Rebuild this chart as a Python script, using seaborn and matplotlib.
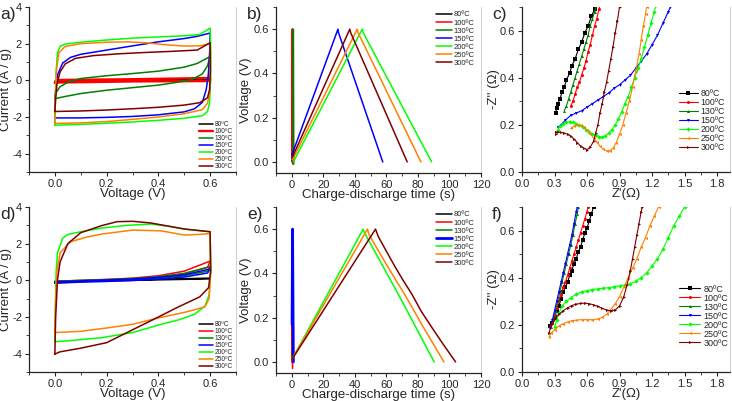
import matplotlib
matplotlib.use("Agg")
import matplotlib.pyplot as plt
from matplotlib.ticker import MultipleLocator, AutoMinorLocator
import seaborn as sns

temps = ["80ºC", "100ºC", "130ºC", "150ºC", "200ºC", "250ºC", "300ºC"]
colors = ["#000000", "#ff0000", "#008000", "#0000ff", "#00ff00", "#ff8000", "#800000"]
markers = ["s", "o", "^", "v", "D", "<", ">"]

# a) cyclic voltammetry (V, A/g)
cv_a = {
    "80ºC": [(0, -0.05), (0.01, 0.0), (0.3, 0.03), (0.6, 0.06), (0.6, 0.02), (0.3, -0.02), (0, -0.06)],
    "100ºC": [(0, -0.12), (0.01, 0.02), (0.3, 0.06), (0.6, 0.13), (0.6, 0.0), (0.59, -0.04), (0.3, -0.06), (0, -0.12)],
    "130ºC": [(0, -1.0), (0.003, -0.7), (0.02, -0.35), (0.05, -0.1), (0.1, 0.1), (0.2, 0.25), (0.3, 0.37),
              (0.4, 0.5), (0.5, 0.72), (0.55, 0.92), (0.6, 1.3), (0.59, 0.8), (0.57, 0.35), (0.53, 0.05),
              (0.5, -0.05), (0.4, -0.26), (0.3, -0.4), (0.2, -0.54), (0.1, -0.72), (0.04, -0.88), (0, -1.0)],
    "150ºC": [(0, -1.6), (0.003, -0.5), (0.01, 0.3), (0.03, 0.94), (0.06, 1.25), (0.1, 1.42), (0.2, 1.65),
              (0.3, 1.88), (0.4, 2.1), (0.5, 2.28), (0.55, 2.4), (0.6, 2.58), (0.598, 1.5), (0.593, 0.3),
              (0.585, -0.5), (0.57, -1.2), (0.54, -1.55), (0.5, -1.72), (0.4, -1.88), (0.3, -1.97),
              (0.2, -2.02), (0.1, -2.05), (0.0, -2.05), (0, -1.6)],
    "200ºC": [(0, -2.45), (0.002, -1.0), (0.005, 0.5), (0.01, 1.5), (0.02, 1.85), (0.04, 1.98), (0.1, 2.08),
              (0.2, 2.2), (0.3, 2.3), (0.4, 2.37), (0.5, 2.43), (0.56, 2.5), (0.6, 2.85), (0.603, 1.5),
              (0.602, 0), (0.598, -1.2), (0.59, -1.7), (0.57, -1.93), (0.5, -2.07), (0.4, -2.18),
              (0.3, -2.27), (0.2, -2.34), (0.1, -2.4), (0.0, -2.45)],
    "250ºC": [(0, -2.35), (0.002, -1.0), (0.006, 0.5), (0.015, 1.5), (0.04, 1.85), (0.1, 2.0), (0.2, 2.08),
              (0.28, 2.1), (0.35, 2.05), (0.42, 1.95), (0.5, 1.87), (0.56, 1.88), (0.6, 2.0), (0.601, 0.5),
              (0.598, -0.7), (0.59, -1.25), (0.57, -1.6), (0.5, -1.82), (0.4, -2.0), (0.3, -2.13),
              (0.2, -2.25), (0.1, -2.32), (0.0, -2.35)],
    "300ºC": [(0, -1.7), (0.003, -1.0), (0.008, -0.2), (0.02, 0.45), (0.04, 0.9), (0.08, 1.2), (0.15, 1.35),
              (0.25, 1.45), (0.35, 1.52), (0.45, 1.58), (0.55, 1.65), (0.6, 2.05), (0.601, 0.5),
              (0.598, -0.5), (0.59, -0.95), (0.56, -1.22), (0.5, -1.35), (0.4, -1.47), (0.3, -1.55),
              (0.2, -1.62), (0.1, -1.67), (0.0, -1.7)],
}

# d) cyclic voltammetry (V, A/g)
cv_d = {
    "80ºC": [(0, -0.05), (0.3, 0.03), (0.6, 0.12), (0.6, 0.08), (0.3, 0.0), (0, -0.08)],
    "100ºC": [(0, -0.15), (0.01, -0.05), (0.1, 0.0), (0.2, 0.05), (0.3, 0.12), (0.4, 0.25), (0.5, 0.5),
              (0.6, 1.05), (0.59, 0.7), (0.5, 0.35), (0.4, 0.15), (0.3, 0.05), (0.2, -0.02), (0.1, -0.07),
              (0, -0.15)],
    "130ºC": [(0, -0.12), (0.01, -0.05), (0.1, 0.0), (0.2, 0.04), (0.3, 0.1), (0.4, 0.2), (0.5, 0.38),
              (0.6, 0.75), (0.59, 0.5), (0.5, 0.25), (0.4, 0.1), (0.3, 0.03), (0.2, -0.02), (0.1, -0.06),
              (0, -0.12)],
    "150ºC": [(0, -0.15), (0.01, -0.08), (0.1, -0.03), (0.2, 0.02), (0.3, 0.07), (0.4, 0.16), (0.5, 0.3),
              (0.6, 0.62), (0.59, 0.4), (0.5, 0.18), (0.4, 0.06), (0.3, -0.01), (0.2, -0.06), (0.1, -0.1),
              (0, -0.15)],
    "200ºC": [(0, -3.35), (0.002, -1.5), (0.005, 0.5), (0.01, 1.5), (0.03, 2.3), (0.05, 2.5), (0.1, 2.65),
              (0.18, 2.85), (0.28, 3.0), (0.37, 3.07), (0.44, 2.95), (0.5, 2.8), (0.6, 2.65), (0.603, 0.5),
              (0.596, -0.8), (0.58, -1.4), (0.54, -1.85), (0.48, -2.15), (0.41, -2.4), (0.3, -2.85),
              (0.18, -3.13), (0.05, -3.3), (0, -3.35)],
    "250ºC": [(0, -2.85), (0.003, -1.0), (0.008, 0.5), (0.02, 1.5), (0.06, 2.1), (0.12, 2.35), (0.18, 2.52),
              (0.3, 2.74), (0.41, 2.7), (0.5, 2.47), (0.55, 2.5), (0.6, 2.55), (0.602, 0.5), (0.596, -1.0),
              (0.58, -1.45), (0.5, -1.75), (0.4, -2.05), (0.3, -2.4), (0.2, -2.6), (0.1, -2.78),
              (0.0, -2.85)],
    "300ºC": [(0, -4.02), (0.003, -2.0), (0.01, 0.0), (0.02, 1.0), (0.05, 2.0), (0.1, 2.6), (0.18, 2.98),
              (0.24, 3.2), (0.3, 3.22), (0.37, 3.13), (0.5, 2.8), (0.6, 2.65), (0.602, 0.5), (0.594, -0.4),
              (0.56, -0.9), (0.5, -1.3), (0.47, -1.5), (0.4, -2.0), (0.3, -2.7), (0.2, -3.4), (0.1, -3.7),
              (0.02, -3.9), (0, -4.02)],
}

# b) galvanostatic charge-discharge (s, V)
gcd_b = {
    "80ºC": [(0.2, 0.0), (0.5, 0.6), (0.9, 0.0)],
    "100ºC": [(0.0, 0.02), (0.3, 0.6), (0.6, -0.01)],
    "130ºC": [(0.8, 0.0), (1.0, 0.6), (1.3, -0.01)],
    "150ºC": [(0.0, 0.03), (29.3, 0.6), (29.6, 0.585), (57.7, 0.0)],
    "200ºC": [(1.0, 0.0), (44.7, 0.6), (45.2, 0.585), (88.7, 0.0)],
    "250ºC": [(0.5, 0.01), (41.5, 0.6), (42.0, 0.585), (81.9, 0.0)],
    "300ºC": [(0.3, 0.02), (36.8, 0.6), (37.3, 0.585), (73.2, 0.0)],
}

# e) galvanostatic charge-discharge (s, V)
gcd_e = {
    "80ºC": [(0.2, 0.0), (0.5, 0.6), (0.9, 0.0)],
    "100ºC": [(0.0, 0.0), (0.2, 0.55), (0.5, -0.03)],
    "130ºC": [(0.5, 0.0), (0.8, 0.48), (1.0, 0.0)],
    "150ºC": [(0.2, 0.17), (0.5, 0.6), (1.0, 0.0)],
    "200ºC": [(0.0, 0.01), (45.3, 0.6), (46.0, 0.585), (68.0, 0.3), (90.3, 0.0)],
    "250ºC": [(0.0, 0.01), (48.0, 0.6), (49.0, 0.575), (60.0, 0.44), (72.0, 0.3), (84.0, 0.15), (96.5, 0.0)],
    "300ºC": [(0.0, 0.01), (53.1, 0.6), (54.9, 0.566), (60.0, 0.5), (65.5, 0.43), (70.5, 0.37), (76.1, 0.307),
              (82.0, 0.23), (88.8, 0.156), (96.0, 0.08), (103.9, 0.0)],
}

# c) Nyquist (Z', -Z'')
eis_c = {
    "80ºC": [(0.31, 0.25), (0.32, 0.27), (0.33, 0.29), (0.35, 0.31), (0.37, 0.34), (0.39, 0.36), (0.41, 0.39),
             (0.44, 0.42), (0.46, 0.45), (0.49, 0.48), (0.52, 0.52), (0.55, 0.55), (0.58, 0.59), (0.61, 0.62),
             (0.64, 0.66), (0.67, 0.69), (0.69, 0.71)],
    "100ºC": [(0.45, 0.28), (0.47, 0.3), (0.49, 0.33), (0.51, 0.36), (0.53, 0.38), (0.55, 0.41), (0.57, 0.44),
              (0.59, 0.47), (0.61, 0.51), (0.63, 0.54), (0.65, 0.58), (0.67, 0.62), (0.69, 0.65), (0.71, 0.69),
              (0.72, 0.71)],
    "130ºC": [(0.39, 0.26), (0.41, 0.28), (0.43, 0.31), (0.45, 0.34), (0.47, 0.37), (0.49, 0.4), (0.51, 0.43),
              (0.53, 0.46), (0.55, 0.49), (0.57, 0.52), (0.59, 0.55), (0.61, 0.58), (0.63, 0.62), (0.65, 0.65),
              (0.67, 0.68), (0.69, 0.71)],
    "150ºC": [(0.33, 0.19), (0.36, 0.2), (0.4, 0.22), (0.45, 0.24), (0.5, 0.25), (0.55, 0.26), (0.6, 0.275),
              (0.65, 0.29), (0.7, 0.305), (0.75, 0.32), (0.8, 0.335), (0.85, 0.355), (0.9, 0.37), (0.95, 0.39),
              (1.0, 0.41), (1.05, 0.44), (1.1, 0.47), (1.15, 0.5), (1.2, 0.54), (1.25, 0.58), (1.3, 0.63),
              (1.35, 0.68), (1.37, 0.7)],
    "200ºC": [(0.33, 0.18), (0.35, 0.195), (0.38, 0.205), (0.41, 0.21), (0.44, 0.213), (0.47, 0.21),
              (0.5, 0.205), (0.53, 0.198), (0.56, 0.19), (0.59, 0.18), (0.62, 0.17), (0.65, 0.162),
              (0.68, 0.155), (0.71, 0.15), (0.74, 0.148), (0.77, 0.152), (0.8, 0.165), (0.83, 0.18),
              (0.86, 0.2), (0.89, 0.225), (0.92, 0.255), (0.95, 0.29), (0.98, 0.32), (1.01, 0.36),
              (1.04, 0.4), (1.07, 0.44), (1.1, 0.48), (1.13, 0.53), (1.16, 0.58), (1.19, 0.63),
              (1.22, 0.68), (1.24, 0.71)],
    "250ºC": [(0.45, 0.185), (0.48, 0.195), (0.51, 0.2), (0.54, 0.198), (0.57, 0.19), (0.6, 0.178),
              (0.63, 0.163), (0.66, 0.145), (0.69, 0.127), (0.72, 0.11), (0.75, 0.097), (0.78, 0.09),
              (0.81, 0.09), (0.84, 0.1), (0.87, 0.125), (0.9, 0.16), (0.93, 0.2), (0.96, 0.25), (0.99, 0.3),
              (1.02, 0.36), (1.05, 0.43), (1.08, 0.5), (1.1, 0.56), (1.12, 0.62), (1.14, 0.67), (1.15, 0.7)],
    "300ºC": [(0.31, 0.16), (0.31, 0.17), (0.33, 0.17), (0.36, 0.168), (0.39, 0.165), (0.42, 0.16),
              (0.45, 0.152), (0.48, 0.14), (0.51, 0.125), (0.54, 0.11), (0.57, 0.1), (0.6, 0.095),
              (0.63, 0.105), (0.66, 0.13), (0.68, 0.165), (0.7, 0.2), (0.72, 0.25), (0.74, 0.29),
              (0.76, 0.34), (0.78, 0.38), (0.8, 0.43), (0.82, 0.48), (0.84, 0.53), (0.86, 0.59),
              (0.88, 0.64), (0.9, 0.7)],
}

# f) Nyquist (Z', -Z'')
eis_f = {
    "80ºC": [(0.26, 0.195), (0.28, 0.21), (0.3, 0.23), (0.32, 0.26), (0.34, 0.28), (0.36, 0.31), (0.38, 0.34),
             (0.4, 0.36), (0.42, 0.38), (0.44, 0.41), (0.46, 0.43), (0.48, 0.46), (0.5, 0.48), (0.52, 0.51),
             (0.54, 0.53), (0.56, 0.56), (0.58, 0.59), (0.6, 0.61), (0.62, 0.64), (0.64, 0.67), (0.66, 0.7)],
    "100ºC": [(0.26, 0.19), (0.28, 0.21), (0.3, 0.24), (0.32, 0.27), (0.34, 0.3), (0.36, 0.33), (0.38, 0.36),
              (0.4, 0.38), (0.42, 0.41), (0.44, 0.44), (0.46, 0.47), (0.48, 0.5), (0.5, 0.53), (0.52, 0.56),
              (0.54, 0.59), (0.56, 0.62), (0.58, 0.65), (0.6, 0.68), (0.61, 0.7)],
    "130ºC": [(0.27, 0.19), (0.29, 0.22), (0.31, 0.26), (0.33, 0.3), (0.35, 0.34), (0.37, 0.38), (0.39, 0.42),
              (0.41, 0.46), (0.43, 0.5), (0.45, 0.54), (0.47, 0.58), (0.49, 0.63), (0.51, 0.67), (0.52, 0.7)],
    "150ºC": [(0.26, 0.185), (0.28, 0.22), (0.3, 0.26), (0.32, 0.3), (0.34, 0.34), (0.36, 0.38), (0.38, 0.42),
              (0.4, 0.46), (0.42, 0.5), (0.44, 0.54), (0.46, 0.58), (0.48, 0.63), (0.5, 0.68), (0.51, 0.7)],
    "200ºC": [(0.3, 0.19), (0.32, 0.22), (0.34, 0.25), (0.37, 0.28), (0.41, 0.3), (0.45, 0.315), (0.5, 0.33),
              (0.55, 0.34), (0.6, 0.345), (0.65, 0.35), (0.7, 0.352), (0.75, 0.355), (0.8, 0.358),
              (0.85, 0.362), (0.9, 0.365), (0.95, 0.37), (1.0, 0.375), (1.05, 0.385), (1.1, 0.4),
              (1.15, 0.42), (1.2, 0.45), (1.25, 0.48), (1.3, 0.52), (1.35, 0.57), (1.4, 0.62), (1.45, 0.66),
              (1.5, 0.7)],
    "250ºC": [(0.25, 0.15), (0.27, 0.165), (0.3, 0.18), (0.34, 0.195), (0.38, 0.205), (0.42, 0.212),
              (0.46, 0.218), (0.5, 0.22), (0.55, 0.222), (0.6, 0.222), (0.65, 0.222), (0.7, 0.225),
              (0.74, 0.232), (0.78, 0.245), (0.82, 0.265), (0.86, 0.29), (0.9, 0.32), (0.94, 0.36),
              (0.98, 0.4), (1.02, 0.44), (1.06, 0.48), (1.1, 0.53), (1.14, 0.57), (1.18, 0.62), (1.22, 0.66),
              (1.26, 0.7)],
    "300ºC": [(0.25, 0.165), (0.27, 0.2), (0.3, 0.225), (0.34, 0.245), (0.38, 0.26), (0.42, 0.272),
              (0.46, 0.282), (0.5, 0.288), (0.54, 0.291), (0.58, 0.292), (0.62, 0.29), (0.66, 0.285),
              (0.7, 0.278), (0.74, 0.27), (0.78, 0.263), (0.82, 0.26), (0.86, 0.263), (0.9, 0.28),
              (0.94, 0.32), (0.97, 0.37), (1.0, 0.43), (1.02, 0.48), (1.04, 0.53), (1.06, 0.58),
              (1.08, 0.63), (1.1, 0.68), (1.11, 0.7)],
}

sns.set_style("ticks")
plt.rcParams["font.family"] = ["Liberation Sans", "DejaVu Sans"]
plt.rcParams["axes.unicode_minus"] = False

W, H = 732, 401
fig = plt.figure(figsize=(W / 100, H / 100), dpi=100)


def make_ax(left, top, right, bottom):
    return fig.add_axes([left / W, 1 - bottom / H, (right - left) / W, (bottom - top) / H])


def style(ax, xlim, ylim, xmaj, ymaj, xlabel, ylabel, ylab_x):
    ax.set_xlim(*xlim)
    ax.set_ylim(*ylim)
    ax.xaxis.set_major_locator(MultipleLocator(xmaj))
    ax.yaxis.set_major_locator(MultipleLocator(ymaj))
    ax.xaxis.set_minor_locator(AutoMinorLocator(2))
    ax.yaxis.set_minor_locator(AutoMinorLocator(2))
    ax.tick_params(which="major", direction="out", length=3, width=0.8, labelsize=8, pad=2)
    ax.tick_params(which="minor", direction="out", length=2, width=0.6)
    ax.spines["top"].set_visible(False)
    ax.spines["right"].set_color("#c8c8c8")
    ax.spines["right"].set_linewidth(0.6)
    for s in ["left", "bottom"]:
        ax.spines[s].set_linewidth(0.9)
    ax.set_xlabel(xlabel, fontsize=9.5)
    ax.set_ylabel(ylabel, fontsize=9.5)
    ax.xaxis.set_label_coords(0.5, -0.095)
    ax.yaxis.set_label_coords(ylab_x, 0.5)


def draw(ax, curves, lw, with_markers=False, thick=None):
    thick = thick or {}
    for i, t in enumerate(temps):
        pts = curves[t]
        xs = [p[0] for p in pts]
        ys = [p[1] for p in pts]
        kw = {}
        if with_markers:
            kw = dict(marker=markers[i], markersize=2.2, markeredgewidth=0)
        sns.lineplot(x=xs, y=ys, ax=ax, color=colors[i], sort=False, estimator=None,
                     lw=thick.get(t, lw), label=t, **kw)


def add_legend(ax, loc, anchor, fs, spacing, hl):
    ax.legend(loc=loc, bbox_to_anchor=anchor, frameon=False, fontsize=fs, labelspacing=spacing,
              handlelength=hl, handletextpad=0.3, borderaxespad=0, borderpad=0)


# top row
ax_a = make_ax(29, 7, 236, 172)
draw(ax_a, cv_a, 1.1, thick={"100ºC": 1.7})
style(ax_a, (-0.1, 0.7), (-5, 4), 0.2, 2, "Voltage (V)", "Current (A / g)", -0.08)
add_legend(ax_a, "lower right", (0.985, 0.01), 4.8, 0.0, 2.0)

ax_b = make_ax(276, 7, 481, 173)
draw(ax_b, gcd_b, 1.1)
style(ax_b, (-10, 120), (-0.05, 0.7), 20, 0.2, "Charge-discharge time (s)", "Voltage (V)", -0.118)
add_legend(ax_b, "upper right", (0.97, 0.975), 5.5, 0.1, 2.0)

ax_c = make_ax(522, 7, 730, 172)
draw(ax_c, eis_c, 0.8, with_markers=True)
style(ax_c, (0, 1.92), (0, 0.7), 0.3, 0.2, "Z'(Ω)", "-Z'' (Ω)", -0.105)
add_legend(ax_c, "upper right", (0.975, 0.505), 6.3, 0.0, 2.2)

# bottom row
ax_d = make_ax(29, 207, 236, 372)
draw(ax_d, cv_d, 1.1)
style(ax_d, (-0.1, 0.7), (-5, 4), 0.2, 2, "Voltage (V)", "Current (A / g)", -0.08)
add_legend(ax_d, "lower right", (0.985, 0.01), 4.8, 0.0, 2.0)

ax_e = make_ax(276, 207, 481, 373)
draw(ax_e, gcd_e, 1.1, thick={"150ºC": 2.0})
style(ax_e, (-10, 120), (-0.05, 0.7), 20, 0.2, "Charge-discharge time (s)", "Voltage (V)", -0.118)
add_legend(ax_e, "upper right", (0.97, 0.975), 5.5, 0.1, 2.0)

ax_f = make_ax(522, 207, 730, 372)
draw(ax_f, eis_f, 0.8, with_markers=True)
style(ax_f, (0, 1.92), (0, 0.7), 0.3, 0.2, "Z'(Ω)", "-Z'' (Ω)", -0.105)
add_legend(ax_f, "upper right", (0.99, 0.53), 6.5, 0.0, 2.4)

for letter, x, y in [("a)", 0, 19), ("b)", 247, 19), ("c)", 492, 19),
                     ("d)", 0, 219), ("e)", 247, 219), ("f)", 492, 219)]:
    fig.text(x / W, 1 - y / H, letter, fontsize=12.5, ha="left", va="baseline")

fig.savefig("out.png", dpi=100)
